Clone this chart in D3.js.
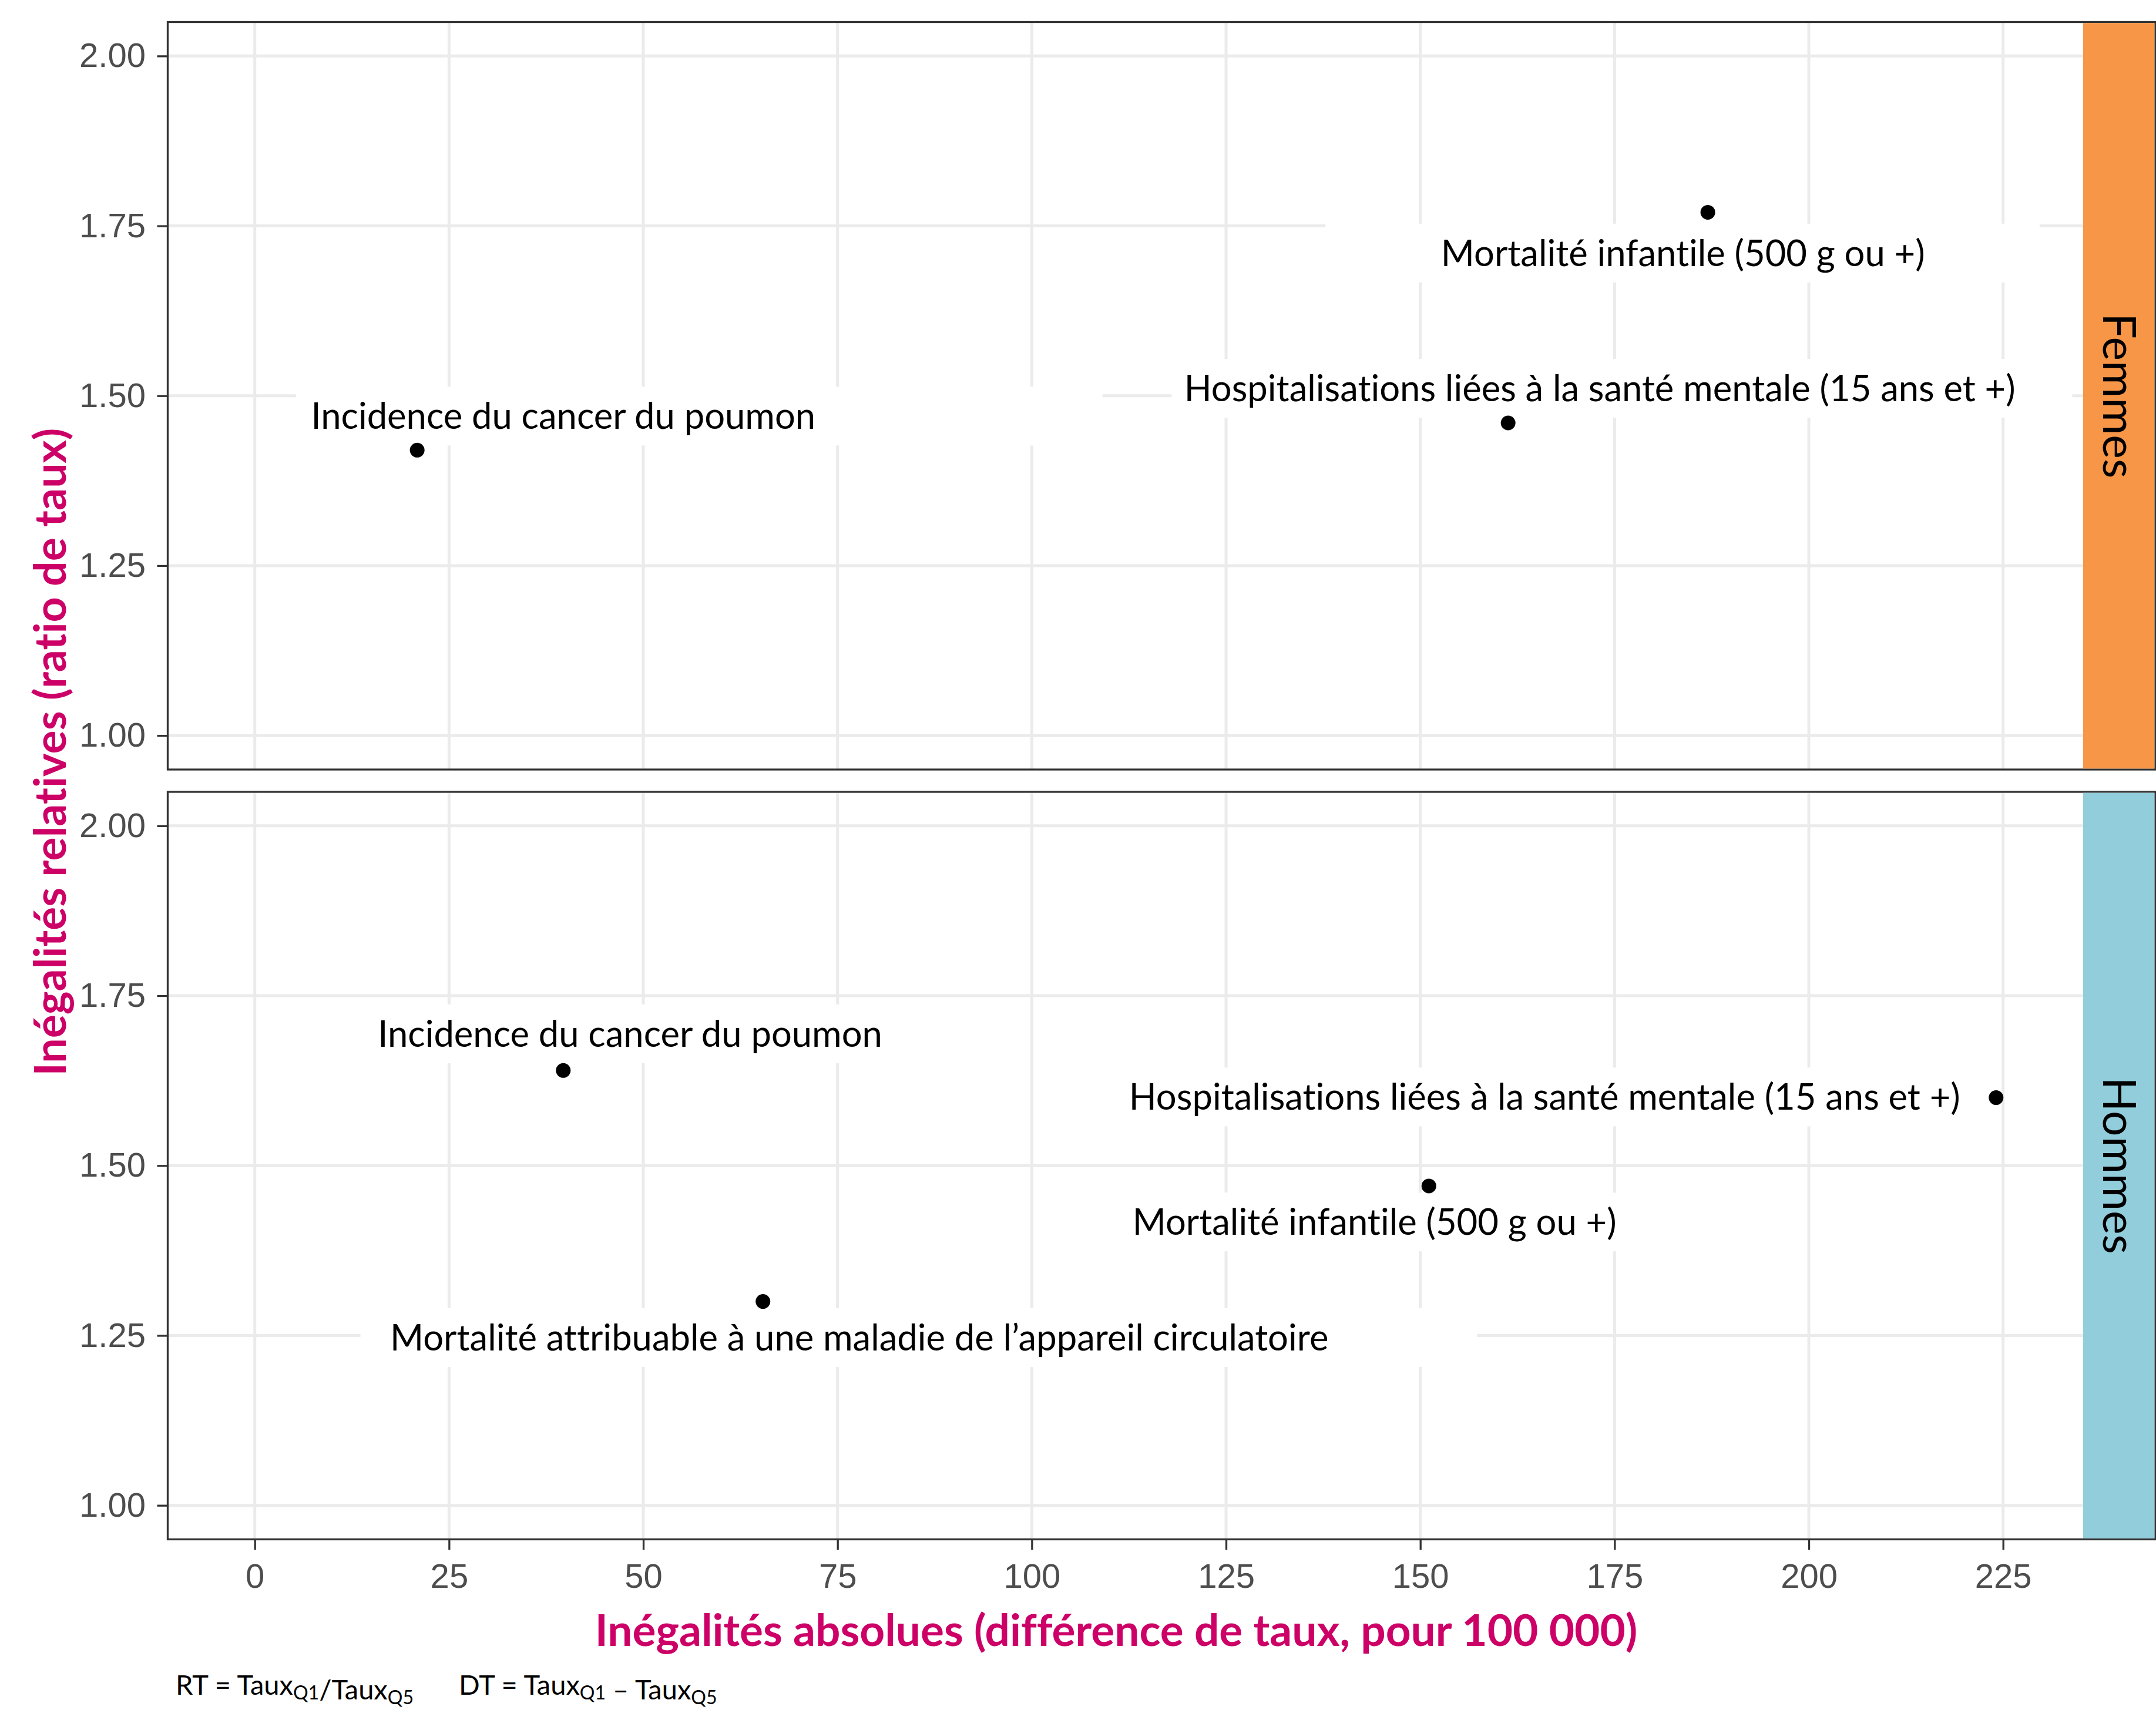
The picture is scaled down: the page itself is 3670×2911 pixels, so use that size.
<!DOCTYPE html>
<html><head><meta charset="utf-8">
<script src="https://cdn.jsdelivr.net/npm/d3@7"></script>
<style>html,body{margin:0;padding:0;background:#fff;overflow:hidden} text{font-variant-ligatures:none;font-feature-settings:"liga" 0,"clig" 0}</style>
</head><body>
<svg id="chart" width="3670" height="2911" xmlns="http://www.w3.org/2000/svg"></svg>
<script>
// ---------- DATA ----------
const indicators = [
  "Incidence du cancer du poumon",
  "Hospitalisations liées à la santé mentale (15 ans et +)",
  "Mortalité infantile (500 g ou +)",
  "Mortalité attribuable à une maladie de l’appareil circulatoire"
];
const facets = ["Femmes", "Hommes"];
const facetColors = ["#F79646", "#92CDDC"];

// Femmes
const femmesIndicator = [0, 1, 2];
const femmesDT = [20.9, 161.3, 187.0];
const femmesRT = [1.42, 1.46, 1.77];
// Hommes
const hommesIndicator = [0, 1, 2, 3];
const hommesDT = [39.7, 224.1, 151.1, 65.4];
const hommesRT = [1.64, 1.60, 1.47, 1.30];

const xTicks = [0, 25, 50, 75, 100, 125, 150, 175, 200, 225];
const xTickLabels = ["0", "25", "50", "75", "100", "125", "150", "175", "200", "225"];
const yTicks = [1.00, 1.25, 1.50, 1.75, 2.00];
const yTickLabels = ["1.00", "1.25", "1.50", "1.75", "2.00"];
const yLimits = [1, 2];

// repelled label placements (text centre, baseline) in data units
const femmesLabelDT = [39.7, 173.1, 183.8];
const femmesLabelRT = [1.451, 1.492, 1.691];
const hommesLabelDT = [48.3, 166.0, 144.1, 77.8];
const hommesLabelRT = [1.675, 1.582, 1.398, 1.228];
// label box horizontal extents (data units) — boxes hide the grid
const femmesBoxDT = [[5.3, 109.1], [118.0, 233.9], [137.8, 229.7]];
const hommesBoxDT = [[14.5, 95.0], [106.0, 222.5], [113.0, 190.0], [13.6, 157.3]];

const xTitle = "Inégalités absolues (différence de taux, pour 100 000)";
const yTitle = "Inégalités relatives (ratio de taux)";

// ---------- LAYOUT ----------
const W = 3670, H = 2911;
const L = 285.5, R = 3546, STRIP_R = 3669;
const panelTops = [37.5, 1348], panelH = 1272.5;
const PINK = "#CC0066", BORDER = "#333333", GRID = "#EBEBEB", AXTXT = "#4D4D4D";
const LAB = "Lato";
const TICKFONT = "Liberation Sans, Arial, sans-serif";

const svg = d3.select("#chart");
svg.append("rect").attr("width", W).attr("height", H).attr("fill", "#fff");

function measure(str, family, weight, size) {
  const t = svg.append("text").attr("font-family", family).attr("font-weight", weight)
    .attr("font-size", size).text(str);
  const w = t.node().getComputedTextLength(); t.remove(); return w;
}
function fit(str, family, weight, target) { return 100 * target / measure(str, family, weight, 100); }

const labelSize = fit(indicators[2], LAB, 400, 824);
const xTitleSize = fit(xTitle, LAB, 700, 1775);
const yTitleSize = fit(yTitle, LAB, 700, 1103);
const stripSize = fit("Femmes", LAB, 400, 281);

const allDT = femmesDT.concat(hommesDT);
const xmax = d3.max(allDT), xmin = 0;
const xpad = 0.05 * (xmax - xmin);
const x = d3.scaleLinear().domain([xmin - xpad, xmax + xpad]).range([L, R]);
const ypad = 0.05 * (yLimits[1] - yLimits[0]);

const panels = [
  { dt: femmesDT, rt: femmesRT, ind: femmesIndicator, ldt: femmesLabelDT, lrt: femmesLabelRT, box: femmesBoxDT },
  { dt: hommesDT, rt: hommesRT, ind: hommesIndicator, ldt: hommesLabelDT, lrt: hommesLabelRT, box: hommesBoxDT }
];

panels.forEach((p, pi) => {
  const top = panelTops[pi], bot = top + panelH;
  const y = d3.scaleLinear().domain([yLimits[0] - ypad, yLimits[1] + ypad]).range([bot, top]);
  const g = svg.append("g");

  // grid
  g.selectAll("line.gx").data(xTicks).enter().append("line")
    .attr("x1", d => x(d)).attr("x2", d => x(d)).attr("y1", top).attr("y2", bot)
    .attr("stroke", GRID).attr("stroke-width", 5);
  g.selectAll("line.gy").data(yTicks).enter().append("line")
    .attr("x1", L).attr("x2", R).attr("y1", d => y(d)).attr("y2", d => y(d))
    .attr("stroke", GRID).attr("stroke-width", 5);

  const rows = p.dt.map((d, i) => ({ dt: d, rt: p.rt[i], name: indicators[p.ind[i]], ldt: p.ldt[i], lrt: p.lrt[i], box: p.box[i] }));

  // label boxes (white) hiding the grid
  g.selectAll("rect.box").data(rows).enter().append("rect")
    .attr("x", d => x(d.box[0])).attr("width", d => x(d.box[1]) - x(d.box[0]))
    .attr("y", d => y(d.lrt) - 72).attr("height", 100).attr("fill", "#fff");

  // points
  g.selectAll("circle").data(rows).enter().append("circle")
    .attr("cx", d => x(d.dt)).attr("cy", d => y(d.rt)).attr("r", 12.5).attr("fill", "#000");

  // label text
  g.selectAll("text.lab").data(rows).enter().append("text")
    .attr("x", d => x(d.ldt)).attr("y", d => y(d.lrt))
    .attr("text-anchor", "middle").attr("font-family", LAB).attr("font-size", labelSize)
    .attr("fill", "#000").text(d => d.name);

  // border + strip
  g.append("rect").attr("x", L).attr("y", top).attr("width", STRIP_R - L).attr("height", panelH)
    .attr("fill", "none").attr("stroke", BORDER).attr("stroke-width", 3.3);
  g.append("rect").attr("x", R).attr("y", top + 1.65).attr("width", STRIP_R - R - 1.65)
    .attr("height", panelH - 3.3).attr("fill", facetColors[pi]);
  g.append("text").attr("transform", `translate(3580,${top + panelH / 2}) rotate(90)`)
    .attr("text-anchor", "middle").attr("font-family", LAB).attr("font-size", stripSize)
    .attr("fill", "#000").text(facets[pi]);

  // y axis
  const ya = d3.axisLeft(y).tickValues(yTicks).tickFormat((d, i) => yTickLabels[i])
    .tickSize(18).tickPadding(19.5);
  const yg = svg.append("g").attr("transform", `translate(${L},0)`).call(ya);
  yg.select(".domain").remove();
  yg.selectAll(".tick line").attr("stroke", BORDER).attr("stroke-width", 3.3);
  yg.selectAll(".tick text").attr("font-family", TICKFONT).attr("font-size", 58).attr("fill", AXTXT);

  if (pi === 1) {
    const xa = d3.axisBottom(x).tickValues(xTicks).tickFormat((d, i) => xTickLabels[i])
      .tickSize(18).tickPadding(23);
    const xg = svg.append("g").attr("transform", `translate(0,${bot})`).call(xa);
    xg.select(".domain").remove();
    xg.selectAll(".tick line").attr("stroke", BORDER).attr("stroke-width", 3.3);
    xg.selectAll(".tick text").attr("font-family", TICKFONT).attr("font-size", 58).attr("fill", AXTXT);
  }
});

// axis titles
svg.append("text").attr("x", 1900).attr("y", 2802).attr("text-anchor", "middle")
  .attr("font-family", LAB).attr("font-weight", 700).attr("font-size", xTitleSize)
  .attr("fill", PINK).text(xTitle);
svg.append("text").attr("transform", "translate(112,1280) rotate(-90)").attr("text-anchor", "middle")
  .attr("font-family", LAB).attr("font-weight", 700).attr("font-size", yTitleSize)
  .attr("fill", PINK).text(yTitle);

// footnote
function footnote(xpos, parts) {
  const t = svg.append("text").attr("x", xpos).attr("y", 2885)
    .attr("font-family", LAB).attr("font-size", 47).attr("fill", "#000");
  parts.forEach(([s, sub]) => {
    t.append("tspan").attr("font-size", sub ? 32 : 47).attr("dy", sub ? 8 : 0).text(s);
    if (sub) t.append("tspan").attr("dy", -8).text("");
  });
}
footnote(299, [["RT = Taux", 0], ["Q1", 1], ["/Taux", 0], ["Q5", 1]]);
footnote(781, [["DT = Taux", 0], ["Q1", 1], [" – Taux", 0], ["Q5", 1]]);
</script>
</body></html>
